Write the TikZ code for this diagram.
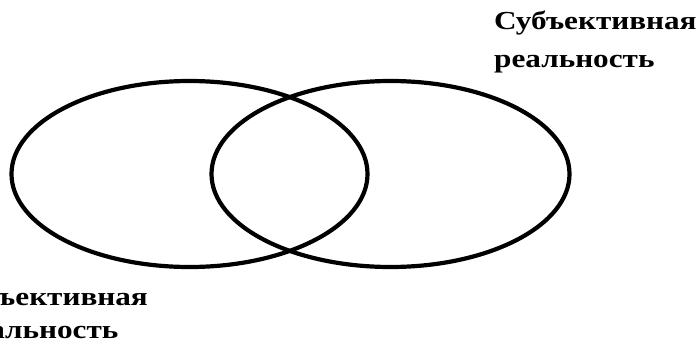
\documentclass[tikz,border=0pt]{standalone}
\usepackage{fontspec}
\newfontfamily\labfont[FakeStretch=1.2]{Liberation Serif}
\begin{document}
\begin{tikzpicture}[x=1pt,y=-1pt,
  ring/.style={draw=black,line width=4.2pt},
  lab/.style={font=\labfont\bfseries\fontsize{26}{30}\selectfont,inner sep=0pt,anchor=base west}]
\useasboundingbox (0,0) rectangle (698,348);
\clip (0,0) rectangle (698,348);
\coordinate (cl) at (189.5,174);
\coordinate (cr) at (390.5,174);
\draw[ring] (cl) ellipse [x radius=178, y radius=93];
\draw[ring] (cr) ellipse [x radius=179, y radius=93];
\node[lab] (s1) at (494,29) {Субъективная};
\node[lab] (s2) at (494,67) {реальность};
\node[lab,anchor=base east] (o1) at (148,305) {Объективная};
\node[lab,anchor=base west] (o2) at (o1.base west |- 0,338) {реальность};
\end{tikzpicture}
\end{document}
